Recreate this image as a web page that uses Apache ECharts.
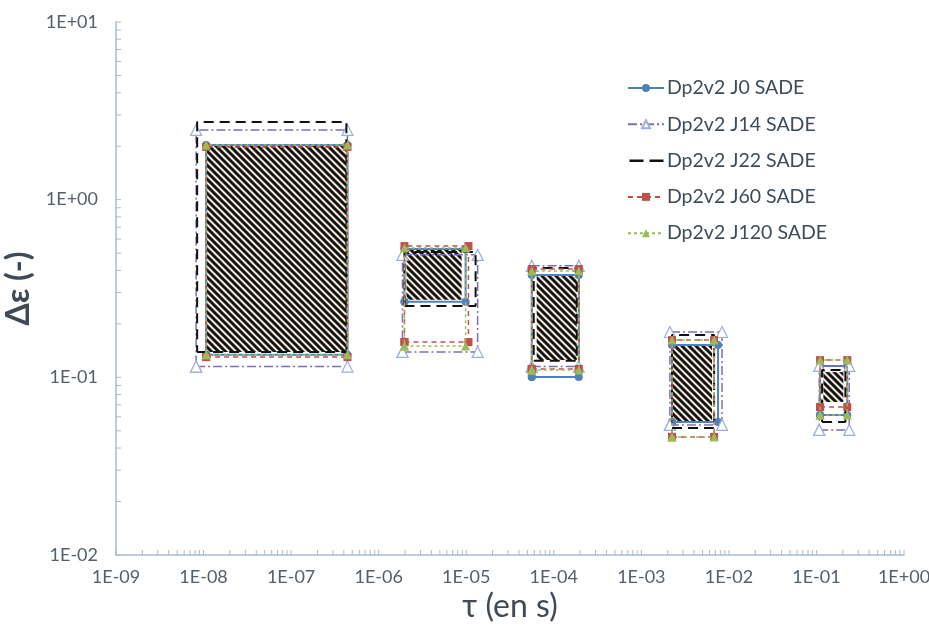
<!DOCTYPE html>
<html>
<head>
<meta charset="utf-8">
<script src="https://cdn.jsdelivr.net/npm/echarts@6/dist/echarts.min.js"></script>
<style>html,body{margin:0;padding:0;background:#fff}#c{width:929px;height:628px}</style>
</head>
<body>
<div id="c"></div>
<script>
// Series names (legend)
const seriesNames = ['Dp2v2 J0 SADE', 'Dp2v2 J14 SADE', 'Dp2v2 J22 SADE', 'Dp2v2 J60 SADE', 'Dp2v2 J120 SADE'];
// Each row: [tauMin, tauMax, epsMin, epsMax] for the 5 rectangles
const J0 = [
  [1.07e-8, 4.40e-7, 0.134, 2.03],
  [1.97e-6, 9.84e-6, 0.266, 0.528],
  [5.6e-5, 1.93e-4, 0.1005, 0.377],
  [2.24e-3, 7.52e-3, 0.056, 0.152],
  [0.110, 0.225, 0.0614, 0.116]
];
const J14 = [
  [8.22e-9, 4.40e-7, 0.115, 2.47],
  [1.87e-6, 1.35e-5, 0.139, 0.489],
  [5.6e-5, 1.93e-4, 0.115, 0.424],
  [2.12e-3, 8.35e-3, 0.054, 0.180],
  [0.1076, 0.237, 0.0506, 0.116]
];
const J22 = [
  [8.45e-9, 4.28e-7, 0.139, 2.74],
  [1.97e-6, 1.28e-5, 0.252, 0.508],
  [5.9e-5, 1.83e-4, 0.124, 0.413],
  [2.24e-3, 6.78e-3, 0.0519, 0.173],
  [0.116, 0.214, 0.0561, 0.110]
];
const J60 = [
  [1.07e-8, 4.40e-7, 0.130, 1.98],
  [1.97e-6, 1.06e-5, 0.158, 0.548],
  [5.6e-5, 1.93e-4, 0.1115, 0.407],
  [2.24e-3, 6.78e-3, 0.0462, 0.162],
  [0.110, 0.225, 0.068, 0.125]
];
const J120 = [
  [1.07e-8, 4.40e-7, 0.134, 2.03],
  [1.97e-6, 9.84e-6, 0.150, 0.535],
  [5.6e-5, 1.93e-4, 0.110, 0.397],
  [2.24e-3, 6.78e-3, 0.0462, 0.162],
  [0.110, 0.225, 0.0614, 0.125]
];
// Hatched common zones: [tauMin, tauMax, epsMin, epsMax]
const hatch = [
  [1.07e-8, 4.40e-7, 0.139, 2.03],
  [2.08e-6, 8.85e-6, 0.273, 0.521],
  [6.38e-5, 1.83e-4, 0.125, 0.372],
  [2.24e-3, 6.43e-3, 0.0553, 0.152],
  [0.120, 0.203, 0.0727, 0.107]
];
const xMin = 1e-9, xMax = 1, yMin = 0.01, yMax = 10;

function fmtE(v) {
  const e = Math.round(Math.log10(v));
  const s = e < 0 ? '-' : '+';
  const a = Math.abs(e);
  return '{t|1E' + s + (a < 10 ? '0' + a : a) + '}';
}
const labelRich = { t: { fontSize: 18, color: '#55606b', fontFamily: 'Lato, "Open Sans", sans-serif' } };

// hatch pattern
const T = 7;
const pc = document.createElement('canvas');
pc.width = T; pc.height = T;
const ctx = pc.getContext('2d');
ctx.fillStyle = '#f6e2d6';
ctx.fillRect(0, 0, T, T);
ctx.strokeStyle = '#0d1512';
ctx.lineWidth = 2.9;
ctx.lineCap = 'square';
[-T, 0, T].forEach(o => { ctx.beginPath(); ctx.moveTo(o - 1, -1); ctx.lineTo(o + T + 1, T + 1); ctx.stroke(); });
const pattern = { image: pc, repeat: 'repeat' };

// minor tick positions (axis decoration)
const xTicks = [], yTicks = [];
for (let k = -9; k < 0; k++) for (let m = 1; m <= 9; m++) xTicks.push([m * Math.pow(10, k), yMin]);
xTicks.push([1, yMin]);
for (let k = -2; k < 1; k++) for (let m = 1; m <= 9; m++) yTicks.push([xMin, m * Math.pow(10, k)]);
yTicks.push([xMin, 10]);

const styles = [
  { color: '#4f81bd', line: 'solid', width: 2, symbol: 'circle', size: 8, mcolor: '#4f81bd', border: '#4f81bd' },
  { color: '#7d6fb4', line: [9, 3, 2, 3], width: 1.5, symbol: 'triangle', size: 11, mcolor: '#ffffff', border: '#9bb0dc' },
  { color: '#111111', line: [10, 6], width: 2, symbol: 'none', size: 0, mcolor: '#111', border: '#111' },
  { color: '#c0504d', line: [5, 4], width: 1.5, symbol: 'rect', size: 8, mcolor: '#c0504d', border: '#c0504d' },
  { color: '#9bbb59', line: [3, 3], width: 1.5, symbol: 'triangle', size: 9, mcolor: '#9bbb59', border: '#9bbb59' }
];
const dataSets = [J0, J14, J22, J60, J120];

const series = [];
series.push({
  type: 'custom', name: 'hatch', z: 1, silent: true,
  data: hatch, encode: { x: [0, 1], y: [2, 3] },
  renderItem: function (params, api) {
    const p0 = api.coord([api.value(0), api.value(3)]);
    const p1 = api.coord([api.value(1), api.value(2)]);
    return { type: 'rect', shape: { x: p0[0], y: p0[1], width: p1[0] - p0[0], height: p1[1] - p0[1] }, style: { fill: pattern } };
  }
});
dataSets.forEach((ds, si) => {
  const st = styles[si];
  ds.forEach(r => {
    const pts = [[r[0], r[2]], [r[1], r[2]], [r[1], r[3]], [r[0], r[3]], [r[0], r[2]]];
    series.push({
      type: 'line', name: seriesNames[si], data: pts, z: 3 + si,
      symbol: st.symbol, symbolSize: st.size, showSymbol: st.symbol !== 'none',
      lineStyle: { color: st.color, width: st.width, type: st.line },
      itemStyle: { color: st.mcolor, borderColor: st.border, borderWidth: si === 1 ? 1.2 : 0 },
      emphasis: { disabled: true }
    });
  });
});
series.push({
  type: 'custom', name: 'xticks', silent: true, z: 2, data: xTicks,
  renderItem: function (params, api) {
    const p = api.coord([api.value(0), api.value(1)]);
    return { type: 'line', shape: { x1: p[0], y1: p[1], x2: p[0], y2: p[1] - 5 }, style: { stroke: '#a9bccd', lineWidth: 1 } };
  }
});
series.push({
  type: 'custom', name: 'yticks', silent: true, z: 2, data: yTicks,
  renderItem: function (params, api) {
    const p = api.coord([api.value(0), api.value(1)]);
    return { type: 'line', shape: { x1: p[0], y1: p[1], x2: p[0] + 5, y2: p[1] }, style: { stroke: '#a9bccd', lineWidth: 1 } };
  }
});

const legendData = seriesNames.map((n, i) => i === 2
  ? { name: n, icon: 'path://M0,0h0.01v10h-0.01z M1,4h14v2.4h-14z M21,4h14v2.4h-14z' }
  : { name: n });

const chart = echarts.init(document.getElementById('c'), null, { renderer: 'canvas' });
chart.setOption({
  animation: false,
  backgroundColor: '#ffffff',
  textStyle: { fontFamily: 'Lato, "Open Sans", sans-serif' },
  grid: { left: 116, right: 25, top: 22, bottom: 73, containLabel: false, outerBoundsMode: 'none' },
  legend: {
    data: legendData, orient: 'vertical', left: 622, top: 73,
    itemWidth: 36, itemHeight: 10, itemGap: 16.3,
    textStyle: { fontSize: 19.5, color: '#3f4b57', fontFamily: 'Lato, "Open Sans", sans-serif', padding: [0, 0, 0, -2] }
  },
  xAxis: {
    type: 'log', logBase: 10, min: xMin, max: xMax, interval: 1,
    name: 'τ (en s)', nameLocation: 'middle', nameGap: 30,
    nameTextStyle: { fontSize: 32, color: '#404a55' },
    axisLine: { lineStyle: { color: '#a9bccd', width: 1.5 } },
    axisTick: { show: false }, splitLine: { show: false }, minorTick: { show: false },
    axisLabel: { formatter: fmtE, rich: labelRich, fontSize: 18, margin: 13 }
  },
  yAxis: {
    type: 'log', logBase: 10, min: yMin, max: yMax, interval: 1,
    name: 'Δε (-)', nameLocation: 'middle', nameGap: 55,
    nameTextStyle: { fontSize: 32, fontWeight: 'bold', color: '#404a55' },
    axisLine: { lineStyle: { color: '#a9bccd', width: 1.5 } },
    axisTick: { show: false }, splitLine: { show: false }, minorTick: { show: false },
    axisLabel: { formatter: fmtE, rich: labelRich, fontSize: 18, margin: 18 }
  },
  series: series
});
</script>
</body>
</html>
